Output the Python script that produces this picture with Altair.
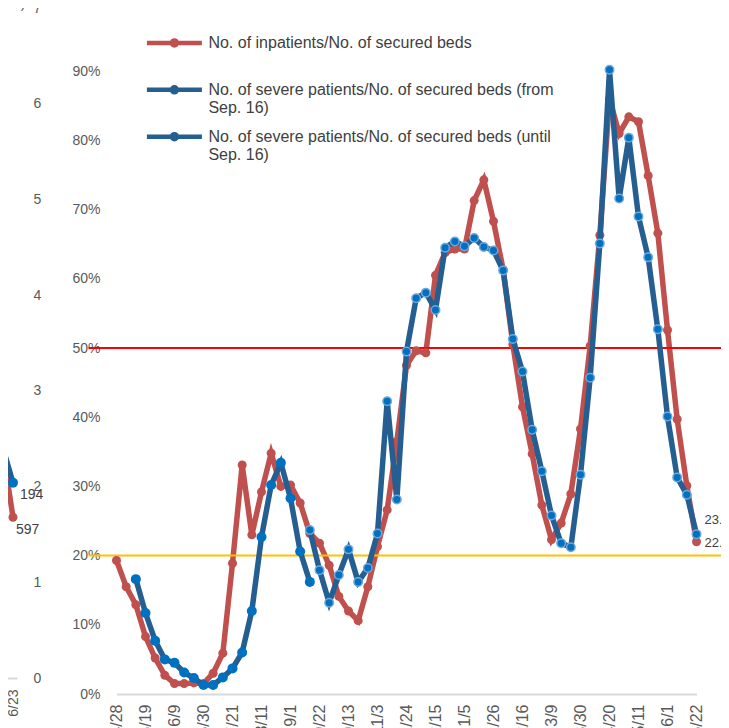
import altair as alt
import pandas as pd

# ---------------- data ----------------
TICK_LABELS = ["4/28", "5/19", "6/9", "6/30", "7/21", "8/11", "9/1", "9/22", "10/13",
               "11/3", "11/24", "12/15", "1/5", "1/26", "2/16", "3/9", "3/30", "4/20",
               "5/11", "6/1", "6/22"]

# weekly values, week index 0 = 4/28 ... 60 = 6/22 (percent)
INPATIENT_PCT = [19.3, 15.5, 12.9, 8.3, 5.2, 2.7, 1.5, 1.5, 1.6, 1.5,
                 3.0, 5.9, 18.9, 33.1, 23.0, 29.2, 34.8, 30.0, 30.2, 27.6,
                 23.2, 21.8, 18.6, 14.1, 12.0, 10.6, 15.5, 21.3, 26.6, 36.5,
                 47.5, 49.6, 49.3, 60.5, 63.8, 64.3, 64.3, 71.3, 74.3, 68.3,
                 61.3, 50.5, 41.5, 34.7, 27.3, 22.3, 24.7, 28.9, 38.3, 50.3,
                 66.3, 86.0, 81.0, 83.4, 82.7, 74.9, 66.6, 52.6, 39.7, 30.1,
                 22.0]
SEVERE_UNTIL_START = 2
SEVERE_UNTIL_PCT = [16.6, 11.7, 7.7, 5.0, 4.5, 3.1, 2.3, 1.3, 1.3, 2.4,
                    3.7, 6.0, 12.0, 22.7, 30.2, 33.4, 28.3, 20.6, 16.2]
SEVERE_FROM_START = 20
SEVERE_FROM_PCT = [23.7, 17.9, 13.2, 17.2, 20.9, 16.2, 18.2, 23.2, 42.3, 28.1,
                   49.5, 57.2, 58.0, 55.5, 64.5, 65.4, 64.7, 65.9, 64.6, 64.1,
                   61.2, 51.3, 46.6, 38.2, 32.2, 25.8, 21.8, 21.2, 31.7, 45.7,
                   65.1, 90.2, 71.6, 80.4, 69.0, 63.1, 52.7, 40.1, 31.3, 28.8,
                   23.1]

SERIES = ["No. of inpatients/No. of secured beds",
          "No. of severe patients/No. of secured beds (from Sep. 16)",
          "No. of severe patients/No. of secured beds (until Sep. 16)"]
SERIES_LINES = [["No. of inpatients/No. of secured beds", ""],
                ["No. of severe patients/No. of secured beds (from", "Sep. 16)"],
                ["No. of severe patients/No. of secured beds (until", "Sep. 16)"]]

REF_50 = 50
REF_20 = 20
REF_EXTENT = [-2.9, 64]

# left (cropped) companion chart: patients, thousands
LEFT_TICK_LABEL = "6/23"
LEFT_TITLE = "(people)"
LEFT_WEEKS = [-2, -1, 0]
LEFT_INPATIENTS = [3.82, 2.36, 1.68]
LEFT_SEVERE = [2.69, 2.40, 2.04]
LEFT_TEXT_SEVERE = "194"
LEFT_TEXT_INPATIENTS = "597"

# ---------------- styles ----------------
RED = "#C0504D"
BLUE_LINE = "#255E91"
BLUE_MARK = "#0070C0"
BLUE_EDGE = "#6FA8DC"
AXIS_GRAY = "#595959"
TEXT_GRAY = "#404040"
FONT = "Liberation Sans"

# ---------------- tables ----------------
red_df = pd.DataFrame({"week": list(range(len(INPATIENT_PCT))), "pct": INPATIENT_PCT,
                       "series": SERIES[0]})
until_df = pd.DataFrame({"week": list(range(SEVERE_UNTIL_START, SEVERE_UNTIL_START + len(SEVERE_UNTIL_PCT))),
                         "pct": SEVERE_UNTIL_PCT, "series": SERIES[2]})
from_df = pd.DataFrame({"week": list(range(SEVERE_FROM_START, SEVERE_FROM_START + len(SEVERE_FROM_PCT))),
                        "pct": SEVERE_FROM_PCT, "series": SERIES[1]})
ref50_df = pd.DataFrame({"level": [REF_50], "x0": [REF_EXTENT[0]], "x1": [REF_EXTENT[1]]})
ref20_df = pd.DataFrame({"level": [REF_20], "x0": [REF_EXTENT[0]], "x1": [REF_EXTENT[1]]})
last_red = red_df.tail(1).assign(label=lambda d: d["pct"].map(lambda v: f"{v:.1f}%"))
last_blue = from_df.tail(1).assign(label=lambda d: d["pct"].map(lambda v: f"{v:.1f}%"))

tick_expr = "[" + ",".join(f"'{t}'" for t in TICK_LABELS) + "][round(datum.value/3)]"

x_axis = alt.Axis(values=list(range(0, 61, 3)), labelExpr=tick_expr, labelAngle=-90,
                  labelFontSize=16, labelColor=AXIS_GRAY, labelPadding=10, labelFont=FONT,
                  ticks=False, grid=False, domain=True, domainColor="#D9D9D9",
                  domainWidth=2, labelOverlap=False, labelSeparation=0, labelBound=False,
                  labelFlush=False, orient="bottom")
x_enc = alt.X("week:Q", title=None, scale=alt.Scale(domain=[0, 60], nice=False, zero=False), axis=x_axis)
y_enc = alt.Y("pct:Q", title=None,
              scale=alt.Scale(domain=[0, 100], range=[686, -6], nice=False, zero=False),
              axis=alt.Axis(values=list(range(0, 101, 10)), labelExpr="datum.value + '%'",
                            labelFontSize=14, labelColor=AXIS_GRAY, labelPadding=16.5, labelFont=FONT,
                            ticks=False, grid=False, domain=False, orient="left", labelOverlap=False))

legend_expr = " : ".join(
    f"datum.label == '{s}' ? ['{a}', '{b}']" for s, (a, b) in zip(SERIES[:-1], SERIES_LINES[:-1])
) + f" : ['{SERIES_LINES[-1][0]}', '{SERIES_LINES[-1][1]}']"
LEG_PATH = "M-5.5,0L5.5,0M0.5,0A0.5,0.5 0 1,1 -0.5,0A0.5,0.5 0 1,1 0.5,0"

color_enc = alt.Color("series:N",
                      scale=alt.Scale(domain=SERIES, range=[RED, BLUE_LINE, BLUE_LINE]),
                      legend=alt.Legend(title=None, orient="none", legendX=49.9, legendY=26.9,
                                        symbolType=LEG_PATH, symbolSize=100, symbolStrokeWidth=4.5,
                                        labelExpr=legend_expr, labelFontSize=16, labelColor=TEXT_GRAY,
                                        labelFont=FONT, labelFontWeight="normal", labelLimit=700,
                                        labelOffset=26, rowPadding=8.9, padding=0))

rule50 = alt.Chart(ref50_df).mark_rule(strokeWidth=2, color="#FF0000").encode(
    x=alt.X("x0:Q", axis=x_axis, title=None), x2="x1:Q", y="level:Q")
rule20 = alt.Chart(ref20_df).mark_rule(strokeWidth=2, color="#FFC000").encode(
    x=alt.X("x0:Q", axis=x_axis, title=None), x2="x1:Q", y="level:Q")

red_line = alt.Chart(red_df).mark_line(strokeWidth=5.5).encode(x=x_enc, y=y_enc, color=color_enc)
red_pts = alt.Chart(red_df).mark_point(filled=True, size=81, color=RED, opacity=1).encode(x=x_enc, y="pct:Q")
until_line = alt.Chart(until_df).mark_line(strokeWidth=5.5).encode(x=x_enc, y="pct:Q", color=color_enc)
from_line = alt.Chart(from_df).mark_line(strokeWidth=5.5).encode(x=x_enc, y="pct:Q", color=color_enc)
until_pts = alt.Chart(until_df).mark_point(filled=True, size=100, color=BLUE_MARK, opacity=1).encode(x=x_enc, y="pct:Q")
from_pts = alt.Chart(from_df).mark_point(filled=True, size=72, fill=BLUE_MARK, stroke=BLUE_EDGE,
                                         strokeWidth=1.5, opacity=1).encode(x=x_enc, y="pct:Q")
txt_blue = alt.Chart(last_blue).mark_text(align="left", dx=8, dy=-14, fontSize=13, color=TEXT_GRAY,
                                          font=FONT).encode(x=x_enc, y="pct:Q", text="label:N")
txt_red = alt.Chart(last_red).mark_text(align="left", dx=8, dy=1, fontSize=13, color=TEXT_GRAY,
                                        font=FONT).encode(x=x_enc, y="pct:Q", text="label:N")

main = alt.layer(red_line, rule50, rule20, red_pts, until_line, from_line, until_pts, from_pts,
                 txt_blue, txt_red)

# ---------------- left (cropped) companion chart ----------------
left_red_df = pd.DataFrame({"k": LEFT_WEEKS, "v": LEFT_INPATIENTS})
left_blue_df = pd.DataFrame({"k": LEFT_WEEKS, "v": LEFT_SEVERE})
left_t1_df = pd.DataFrame({"k": [0], "v": [LEFT_SEVERE[-1]], "t": [LEFT_TEXT_SEVERE]})
left_t2_df = pd.DataFrame({"k": [0], "v": [LEFT_INPATIENTS[-1]], "t": [LEFT_TEXT_INPATIENTS]})

lx = alt.X("k:Q", title=None,
           scale=alt.Scale(domain=[-1.3, 0.4], range=[-116.5, -99.5], nice=False, zero=False),
           axis=alt.Axis(orient="bottom", values=[0], labelExpr=f"'{LEFT_TICK_LABEL}'", labelAngle=-90,
                         offset=-16, domainColor="#D9D9D9", domainWidth=2, ticks=False, grid=False,
                         labelPadding=11, labelFontSize=14, labelColor=AXIS_GRAY, labelFont=FONT))
ly = alt.Y("v:Q", title=LEFT_TITLE,
           scale=alt.Scale(domain=[0, 7], range=[670, 0], nice=False, zero=False),
           axis=alt.Axis(orient="left", offset=83.5, values=list(range(8)), format="d",
                         domain=False, ticks=False, grid=False, labelAlign="left", labelPadding=0,
                         labelFontSize=14, labelColor=AXIS_GRAY, labelFont=FONT, labelOverlap=False,
                         titleAngle=0, titleAlign="right", titleBaseline="top", titleX=-8, titleY=-12,
                         titleFontSize=14, titleFontWeight="normal", titleColor=AXIS_GRAY, titleFont=FONT))

l_red = alt.Chart(left_red_df).mark_line(strokeWidth=5.5, color=RED).encode(x=lx, y=ly)
l_red_p = alt.Chart(left_red_df).mark_point(filled=True, size=81, color=RED, opacity=1).encode(x="k:Q", y="v:Q")
l_blue = alt.Chart(left_blue_df).mark_line(strokeWidth=5.5, color=BLUE_LINE).encode(x="k:Q", y="v:Q")
l_blue_p = alt.Chart(left_blue_df).mark_point(filled=True, size=100, color=BLUE_MARK, opacity=1).encode(x="k:Q", y="v:Q")
l_t1 = alt.Chart(left_t1_df).mark_text(align="left", dx=7, dy=12, fontSize=14, color=TEXT_GRAY,
                                        font=FONT).encode(x="k:Q", y="v:Q", text="t:N")
l_t2 = alt.Chart(left_t2_df).mark_text(align="left", dx=3, dy=13, fontSize=14, color=TEXT_GRAY,
                                        font=FONT).encode(x="k:Q", y="v:Q", text="t:N")

left = alt.layer(l_red, l_red_p, l_blue, l_blue_p, l_t1, l_t2)

chart = alt.layer(main, left).resolve_scale(x="independent", y="independent").properties(
    width=580, height=686,
    autosize=alt.AutoSizeParams(type="none"),
    padding={"left": 108.5, "top": 0, "right": 24.5, "bottom": 34},
).configure_view(stroke=None).configure_axis(labelOverlap=False)

chart.save("out.html", embed_options={"renderer": "svg", "actions": False})
